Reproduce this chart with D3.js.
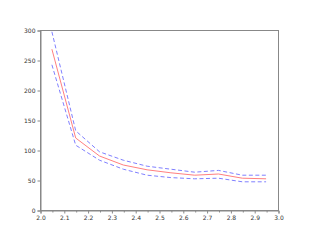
<!DOCTYPE html>
<html>
<head>
<meta charset="utf-8">
<script src="https://cdn.jsdelivr.net/npm/d3@7"></script>
<style>
body { margin: 0; background: #fff; }
text { font-family: "DejaVu Sans", sans-serif; }
</style>
</head>
<body>
<svg id="visualization" width="318" height="240"></svg>
<script>
const xs = [2.05, 2.15, 2.25, 2.35, 2.45, 2.55, 2.65, 2.75, 2.85, 2.95];
const mean = [268, 120, 90, 75, 67, 62, 58, 60, 53, 52];
const upper = [297, 132, 97, 83, 73, 68, 63, 66, 58, 58];
const lower = [242, 108, 83, 68, 58, 54, 52, 53, 47, 47];
const xTicks = [2.0, 2.1, 2.2, 2.3, 2.4, 2.5, 2.6, 2.7, 2.8, 2.9, 3.0];
const yTicks = [0, 50, 100, 150, 200, 250, 300];

const margin = { top: 30, right: 40, bottom: 30, left: 40 };
const width = 318 - margin.left - margin.right;
const height = 240 - margin.top - margin.bottom;

const svg = d3.select("#visualization");
const chart = svg.append("g")
    .attr("transform", `translate(${margin.left}, ${margin.top})`);

const xScale = d3.scaleLinear().domain([2.0, 3.0]).range([0, width]);
const yScale = d3.scaleLinear().domain([0, 300]).range([height, 0]);

// frame
chart.append("rect")
    .attr("x", 0.5).attr("y", 0.5)
    .attr("width", width).attr("height", height)
    .attr("fill", "none").attr("stroke", "#888");

// minor x ticks
const minor = d3.range(2.05, 3.0, 0.1);
chart.append("g")
    .attr("transform", `translate(0.5, ${height + 0.5})`)
    .call(d3.axisBottom(xScale).tickValues(minor).tickSize(2).tickFormat(""))
    .call(g => g.select(".domain").remove())
    .call(g => g.selectAll("line").attr("stroke", "#888"));

chart.append("g")
    .attr("transform", `translate(0.5, ${height + 0.5})`)
    .call(d3.axisBottom(xScale).tickValues(xTicks).tickSize(3).tickPadding(2).tickFormat(d3.format(".1f")))
    .call(g => g.select(".domain").attr("stroke", "#888"))
    .call(g => g.selectAll("line").attr("stroke", "#888"))
    .call(g => g.selectAll("text").attr("font-size", 6).attr("fill", "#333"));

chart.append("g")
    .attr("transform", "translate(0.5, 0.5)")
    .call(d3.axisLeft(yScale).tickValues(yTicks).tickSize(3).tickPadding(2))
    .call(g => g.select(".domain").attr("stroke", "#888"))
    .call(g => g.selectAll("line").attr("stroke", "#888"))
    .call(g => g.selectAll("text").attr("font-size", 6).attr("fill", "#333"));

const line = vals => d3.line()
    .x((d, i) => xScale(xs[i]))
    .y(d => yScale(d))(vals);

chart.append("path")
    .attr("d", line(upper))
    .attr("fill", "none").attr("stroke", "#8080ff")
    .attr("stroke-width", 1).attr("stroke-dasharray", "4,2.5");
chart.append("path")
    .attr("d", line(lower))
    .attr("fill", "none").attr("stroke", "#8080ff")
    .attr("stroke-width", 1).attr("stroke-dasharray", "4,2.5");
chart.append("path")
    .attr("d", line(mean))
    .attr("fill", "none").attr("stroke", "#ff8080")
    .attr("stroke-width", 1);
</script>
</body>
</html>
